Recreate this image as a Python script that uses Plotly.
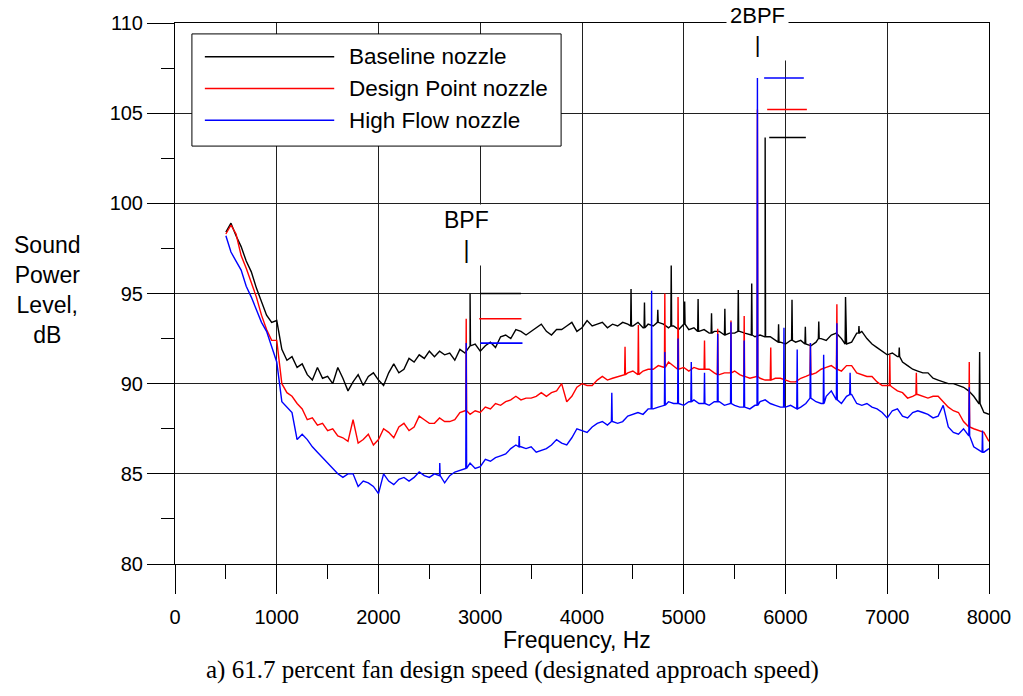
import numpy as np
import plotly.graph_objects as go

# ---------------- data ----------------
freq = list(range(500, 8001, 50))  # broadband sample frequencies, Hz

baseline = [
    98.4, 98.9, 98.2, 97.6, 96.8, 96.2, 95.3, 94.6, 93.8, 93.4,
    93.5, 91.9, 91.3, 91.5, 90.9, 91.1, 90.5, 90.2, 90.9, 90.3,
    90.4, 90.0, 90.9, 90.3, 89.6, 90.1, 90.5, 89.9, 90.4, 90.6,
    90.2, 89.9, 90.6, 91.1, 90.6, 90.8, 91.4, 91.2, 91.6, 91.4,
    91.8, 91.5, 91.8, 91.6, 91.7, 91.3, 91.9, 91.7, 92.1, 92.2,
    91.8, 92.1, 92.3, 92.0, 92.6, 92.7, 92.5, 93.0, 92.9, 92.7,
    92.9, 93.1, 93.3, 92.9, 92.7, 93.0, 93.0, 93.2, 93.4, 92.9,
    93.1, 93.5, 93.2, 93.3, 93.4, 93.1, 93.3, 93.2, 93.4, 93.3,
    93.2, 93.4, 93.1, 93.3, 93.2, 93.4, 93.3, 93.1, 93.2, 93.0,
    93.3, 93.0, 93.1, 92.9, 93.0, 92.8, 92.9, 92.9, 92.7, 92.8,
    92.8, 92.9, 92.8, 92.7, 92.6, 92.7, 92.6, 92.6, 92.4, 92.3,
    92.2, 92.4, 92.3, 92.4, 92.2, 92.1, 92.3, 92.5, 92.4, 92.7,
    92.8, 92.5, 92.2, 92.3, 92.8, 92.9, 92.5, 92.2, 92.0, 91.8,
    91.6, 91.7, 91.5, 91.2, 91.0, 90.8, 90.7, 90.6, 90.6, 90.3,
    90.2, 90.1, 90.0, 90.0, 89.9, 89.8, 89.6, 89.3, 88.9, 88.4,
    88.3,
]

design_point = [
    98.3, 98.8, 98.3, 97.1, 96.4, 95.6, 94.8, 93.8, 93.0, 92.4,
    92.4, 90.0, 89.5, 89.3, 88.9, 88.6, 88.0, 88.1, 87.7, 87.8,
    87.4, 87.5, 87.1, 87.0, 86.8, 88.0, 86.7, 86.9, 87.2, 86.6,
    86.9, 87.5, 87.3, 87.0, 87.6, 87.8, 87.4, 87.6, 88.2, 88.0,
    87.8, 87.8, 88.1, 87.9, 87.9, 88.0, 88.4, 88.5, 88.3, 88.5,
    88.4, 88.7, 88.6, 88.9, 88.8, 89.0, 89.1, 89.3, 89.1, 89.2,
    89.2, 89.3, 89.5, 89.3, 89.5, 89.6, 90.0, 89.0, 89.3, 89.8,
    90.0, 89.9, 89.9, 90.2, 90.4, 90.2, 90.3, 90.4, 90.5, 90.6,
    90.7, 90.5, 90.7, 90.8, 90.8, 91.0, 90.9, 91.2, 91.0, 90.8,
    90.9, 90.7, 90.9, 90.8, 90.8, 90.8, 90.6, 90.5, 90.6, 90.6,
    90.7, 90.5, 90.4, 90.3, 90.4, 90.3, 90.2, 90.2, 90.3, 90.3,
    90.2, 90.1, 90.1, 90.3, 90.4, 90.5, 90.6, 90.8, 90.9, 91.0,
    90.8, 90.7, 91.0, 91.0, 90.6, 90.5, 90.4, 90.4, 90.1, 89.9,
    89.9, 89.8, 89.6, 89.5, 89.2, 89.3, 89.4, 89.3, 89.2, 89.3,
    89.3, 89.0, 88.7, 88.5, 88.4, 87.9, 87.6, 87.5, 87.4, 87.3,
    86.8,
]

high_flow = [
    98.2, 97.3, 96.8, 96.3, 95.4, 94.8, 94.1, 93.4, 92.9, 92.1,
    91.2, 89.0, 88.7, 88.4, 86.9, 87.2, 86.9, 86.5, 86.2, 85.9,
    85.6, 85.3, 85.0, 84.8, 85.0, 85.0, 84.3, 84.6, 84.5, 84.3,
    83.9, 85.0, 84.6, 84.4, 84.7, 84.8, 84.6, 84.8, 85.1, 84.9,
    84.8, 85.0, 84.9, 84.5, 84.9, 85.1, 85.2, 85.3, 85.6, 85.3,
    85.4, 85.8, 85.7, 85.9, 86.0, 86.1, 86.4, 86.6, 86.5, 86.4,
    86.5, 86.2, 86.3, 86.4, 86.6, 86.9, 86.7, 86.6, 87.0, 87.5,
    87.4, 87.3, 87.6, 87.8, 87.9, 87.7, 87.9, 87.8, 87.9, 88.2,
    88.3, 88.4, 88.3, 88.6, 88.6, 88.7, 88.8, 89.0, 88.9, 88.9,
    88.8, 89.0, 89.1, 88.9, 88.9, 88.8, 89.0, 89.0, 88.8, 88.9,
    88.8, 88.7, 88.7, 88.6, 88.8, 89.0, 89.1, 88.9, 88.8, 88.7,
    88.7, 88.8, 88.6, 88.7, 88.9, 89.2, 89.0, 88.9, 89.3, 89.6,
    89.1, 88.9, 89.3, 89.4, 88.9, 88.8, 88.9, 88.7, 88.6, 88.4,
    88.1, 88.5, 88.6, 88.2, 88.1, 88.4, 88.5, 88.4, 88.3, 88.1,
    88.2, 88.8, 87.6, 87.3, 87.2, 87.5, 87.1, 86.5, 86.3, 86.2,
    86.4,
]

# tones: (frequency Hz, peak level dB)
baseline_tones = [
    (2900, 95.0), (4482, 95.25), (4614, 94.5), (4745, 94.1), (4877, 96.55),
    (5009, 94.55), (5141, 94.7), (5273, 93.9), (5404, 94.15), (5536, 95.2),
    (5668, 95.55), (5800, 103.65), (5932, 93.3), (6064, 94.65), (6195, 93.15),
    (6327, 93.45), (6590, 94.8), (6722, 93.2), (7118, 92.0), (7908, 91.75),
]
design_point_tones = [
    (2862, 93.6), (4423, 92.05), (4554, 93.25), (4814, 95.0), (4944, 94.8),
    (5204, 92.4), (5334, 93.05), (5464, 93.5), (5594, 93.75), (5724, 105.2),
    (5855, 92.0), (6245, 92.25), (6505, 94.4), (7025, 91.6), (7286, 90.6),
    (7806, 91.2),
]
high_flow_tones = [
    (2602, 85.6), (2862, 92.25), (3383, 87.1), (4293, 89.5), (4684, 95.15),
    (4814, 91.75), (4944, 92.5), (5074, 91.2), (5204, 90.6), (5334, 92.75),
    (5464, 93.4), (5594, 92.4), (5724, 106.95), (5985, 93.1), (6115, 91.9),
    (6245, 92.25), (6375, 91.6), (6505, 93.35), (6635, 90.6), (7806, 89.8),
    (7936, 87.4),
]

names = ["Baseline nozzle", "Design Point nozzle", "High Flow nozzle"]
colors = ["#000000", "#ff0000", "#0000ff"]

# tone level markers next to BPF / 2BPF labels
bpf_level = [95.0, 93.6, 92.25]
bpf2_level = [103.65, 105.2, 106.95]
bpf_marker_span = [[3000, 3400], [2990, 3405], [3000, 3415]]
bpf2_marker_span = [[5840, 6200], [5820, 6210], [5790, 6180]]

bpf_freq = 2862
bpf2_freq = 5724

caption = "a) 61.7 percent fan design speed (designated approach speed)"


# ---------------- build ----------------
def with_tones(levels, tones):
    f_arr = np.array(freq)
    pts = list(zip(freq, levels))
    for f, peak in tones:
        base = levels[int(np.argmin(np.abs(f_arr - f)))]
        pts += [(f - 4, base), (f, peak), (f + 4, base)]
    pts.sort(key=lambda p: p[0])
    return [p[0] for p in pts], [p[1] for p in pts]


fig = go.Figure()
series = [(baseline, baseline_tones), (design_point, design_point_tones), (high_flow, high_flow_tones)]
for (lv, tn), name, col in zip(series, names, colors):
    xs, ys = with_tones(lv, tn)
    fig.add_trace(go.Scatter(x=xs, y=ys, mode="lines", name=name,
                             line=dict(color=col, width=1.4), showlegend=False))

for i, col in enumerate(colors):
    fig.add_trace(go.Scatter(x=bpf_marker_span[i], y=[bpf_level[i]] * 2, mode="lines",
                             line=dict(color=col, width=1.6), showlegend=False, hoverinfo="skip"))
    fig.add_trace(go.Scatter(x=bpf2_marker_span[i], y=[bpf2_level[i]] * 2, mode="lines",
                             line=dict(color=col, width=1.6), showlegend=False, hoverinfo="skip"))

FONT = "Liberation Sans, Arial, sans-serif"

fig.update_layout(
    width=1023, height=696,
    margin=dict(l=175, r=30, t=19, b=132),
    plot_bgcolor="white", paper_bgcolor="white",
    showlegend=False,
    font=dict(family=FONT, size=20, color="black"),
)
fig.update_xaxes(
    range=[0, 8000], tick0=0, dtick=1000, ticks="outside", ticklen=29, tickwidth=1,
    tickcolor="black", showgrid=True, gridcolor="#202020", gridwidth=1,
    showline=True, linecolor="black", linewidth=1, mirror=True, zeroline=False,
    minor=dict(dtick=500, ticks="outside", ticklen=14, tickcolor="black", showgrid=False),
    tickfont=dict(size=20), ticklabelstandoff=6,
)
fig.update_yaxes(
    range=[80, 110], tick0=80, dtick=5, ticks="outside", ticklen=27, tickwidth=1,
    tickcolor="black", showgrid=True, gridcolor="#202020", gridwidth=1,
    showline=True, linecolor="black", linewidth=1, mirror=True, zeroline=False,
    minor=dict(dtick=2.5, ticks="outside", ticklen=13, tickcolor="black", showgrid=False),
    tickfont=dict(size=20),
)

W, H = 818.0, 545.0  # plot area size in px


def px(xp):
    return (xp - 175) / W


def py(yp):
    return (564 - yp) / H


annotations = [
    dict(text="Sound<br>Power<br>Level,<br>dB", xref="paper", yref="paper", x=px(47), y=py(288),
         xanchor="center", yanchor="middle", showarrow=False, font=dict(size=23)),
    dict(text="Frequency, Hz", xref="paper", yref="paper", x=px(579), y=py(641),
         xanchor="center", yanchor="middle", showarrow=False, font=dict(size=23)),
    dict(text=caption, xref="paper", yref="paper", x=px(514), y=py(671),
         xanchor="center", yanchor="middle", showarrow=False,
         font=dict(family="Liberation Serif, Times New Roman, serif", size=25)),
    dict(text="BPF<br>|", xref="x", yref="y", x=bpf_freq, y=96.55, xanchor="center", yanchor="bottom",
         showarrow=False, bgcolor="white", borderpad=2, font=dict(size=23)),
    dict(text="2BPF<br>|", xref="x", yref="y", x=bpf2_freq, y=107.9, xanchor="center", yanchor="bottom",
         showarrow=False, bgcolor="white", borderpad=3, font=dict(size=22)),
]

shapes = [dict(type="rect", xref="paper", yref="paper", x0=px(192), x1=px(563), y0=py(143), y1=py(30),
               line=dict(color="black", width=1), fillcolor="white", layer="above")]
leg_rows = [53, 85, 117]
for name, col, yr in zip(names, colors, leg_rows):
    shapes.append(dict(type="line", xref="paper", yref="paper", x0=px(205), x1=px(335), y0=py(yr), y1=py(yr),
                       line=dict(color=col, width=1.4), layer="above"))
    annotations.append(dict(text=name, xref="paper", yref="paper", x=px(348), y=py(yr), xanchor="left",
                            yanchor="middle", showarrow=False, font=dict(size=22.5)))

fig.update_layout(annotations=annotations, shapes=shapes)
fig.write_html("out.html", config={"displayModeBar": False},
               post_script="document.body.style.margin='0px';")
